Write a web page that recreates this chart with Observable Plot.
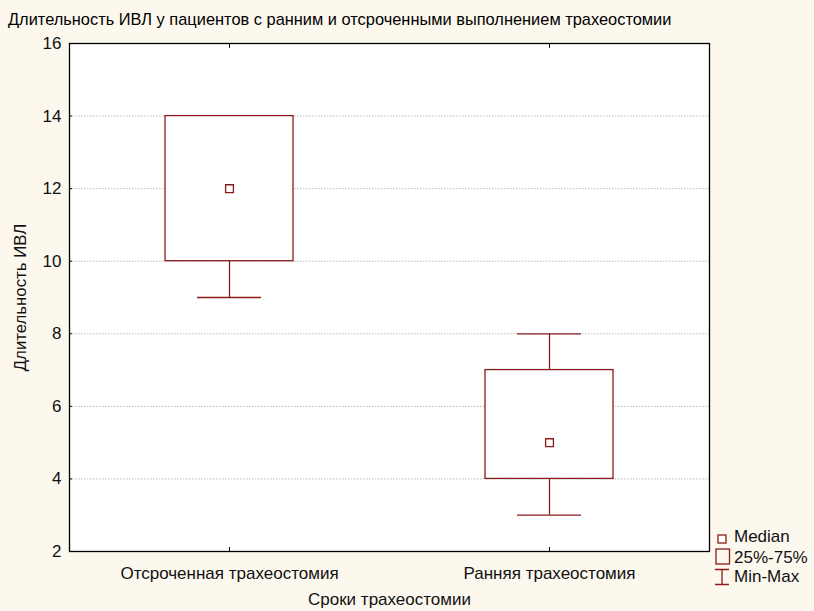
<!DOCTYPE html>
<html><head><meta charset="utf-8">
<script src="https://cdn.jsdelivr.net/npm/d3@7"></script>
<script src="https://cdn.jsdelivr.net/npm/@observablehq/plot@0.6"></script>
<style>
body{margin:0;background:#fcf8ee;font-family:"Liberation Sans",Arial,sans-serif;}
#wrap{position:relative;width:814px;height:611px;overflow:hidden;}
#title{position:absolute;left:8px;top:10px;font-size:16.4px;color:#000;white-space:nowrap;}
#chart{position:absolute;left:0;top:33px;}
.lg{position:absolute;font-size:17px;color:#111;white-space:nowrap;}
.lgs{position:absolute;}
</style></head>
<body><div id="wrap">
<div id="title">Длительность ИВЛ у пациентов с ранним и отсроченными выполнением трахеостомии</div>
<div id="chart"></div>
</div>
<script>
const categories = ["Отсроченная трахеостомия", "Ранняя трахеостомия"];
const minV = [9, 3];
const q1V = [10, 4];
const medV = [12, 5];
const q3V = [14, 7];
const maxV = [14, 8];
const yTicks = [2, 4, 6, 8, 10, 12, 14, 16];
const xTitle = "Сроки трахеостомии";
const yTitle = "Длительность ИВЛ";
const legendLabels = ["Median", "25%-75%", "Min-Max"];

const color = "#8b1a1a";
const data = categories.map((c, i) => ({cat: c, min: minV[i], q1: q1V[i], med: medV[i], q3: q3V[i], max: maxV[i]}));

const chart = Plot.plot({
  width: 814,
  height: 578,
  marginLeft: 69,
  marginRight: 105,
  marginTop: 10,
  marginBottom: 60,
  style: {fontFamily: "Liberation Sans, Arial, sans-serif", fontSize: "17px", color: "#111", background: "transparent", overflow: "visible"},
  x: {type: "band", domain: categories, paddingInner: 0.6, paddingOuter: 0.3, label: null},
  y: {domain: [2, 16], ticks: yTicks, label: null},
  marks: [
    Plot.frame({fill: "white", stroke: null}),
    Plot.gridY(yTicks.filter(t => t > 2 && t < 16), {stroke: "#bbb", strokeOpacity: 1, strokeDasharray: "1.5,1.5", strokeWidth: 1}),
    Plot.ruleX(data, {x: "cat", y1: "min", y2: "q1", stroke: color, strokeWidth: 1.3}),
    Plot.ruleX(data, {x: "cat", y1: "q3", y2: "max", stroke: color, strokeWidth: 1.3}),
    Plot.tickY(data, {x: "cat", y: "min", stroke: color, strokeWidth: 1.3, insetLeft: 32, insetRight: 32}),
    Plot.tickY(data, {x: "cat", y: "max", stroke: color, strokeWidth: 1.3, insetLeft: 32, insetRight: 32}),
    Plot.barY(data, {x: "cat", y1: "q1", y2: "q3", fill: "white", stroke: color, strokeWidth: 1.3}),
    Plot.dot(data, {x: "cat", y: "med", symbol: "square", r: 4.4, fill: "white", stroke: color, strokeWidth: 1.3}),
    Plot.axisY({ticks: yTicks, tickSize: -3, tickPadding: 11, stroke: "#000", fontSize: 17, label: null}),
    Plot.axisX({tickSize: -4, tickPadding: 19, fontSize: 17, label: null}),
    Plot.axisX({anchor: "top", tickSize: -4, tickFormat: () => "", label: null}),
    Plot.text([yTitle], {frameAnchor: "left", textAnchor: "middle", lineAnchor: "middle", rotate: -90, dx: -49, fontSize: 16.8, fill: "#111"}),
    Plot.text([xTitle], {frameAnchor: "bottom", lineAnchor: "middle", dy: 48, fontSize: 17, fill: "#111"}),
    Plot.frame({stroke: "#000", strokeWidth: 1.3})
  ]
});
document.getElementById("chart").append(chart);

const wrap = document.getElementById("wrap");
const glyphs = [
  {svg: `<svg width="11" height="11"><rect x="1" y="1" width="8" height="8" fill="white" stroke="${color}" stroke-width="1.3"/></svg>`, left: 717, top: 531},
  {svg: `<svg width="16" height="17"><rect x="1" y="1" width="13.5" height="15" fill="none" stroke="${color}" stroke-width="1.3"/></svg>`, left: 715, top: 548},
  {svg: `<svg width="16" height="18"><path d="M1,1.5H15M8,1.5V16.5M1,16.5H15" fill="none" stroke="${color}" stroke-width="1.3"/></svg>`, left: 714, top: 568}
];
const textTops = [527, 548, 567];
legendLabels.forEach((t, i) => {
  const g = document.createElement("div");
  g.className = "lgs";
  g.style.left = glyphs[i].left + "px";
  g.style.top = glyphs[i].top + "px";
  g.innerHTML = glyphs[i].svg;
  wrap.append(g);
  const s = document.createElement("div");
  s.className = "lg";
  s.style.left = "734px";
  s.style.top = textTops[i] + "px";
  s.textContent = t;
  wrap.append(s);
});
</script>
</body></html>
